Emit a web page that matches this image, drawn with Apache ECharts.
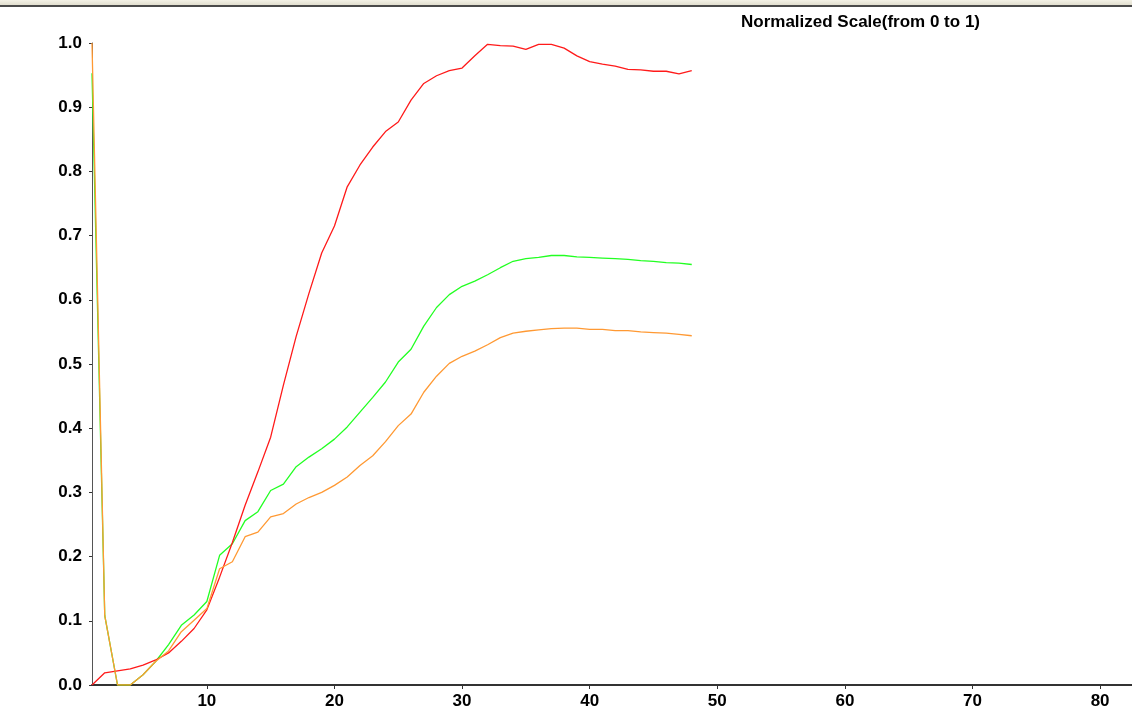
<!DOCTYPE html>
<html>
<head>
<meta charset="utf-8">
<style>
  html, body { margin: 0; padding: 0; background: #ffffff; }
  #topbar { position: absolute; left: 0; top: 0; width: 1132px; height: 5px;
            background: linear-gradient(#f3f1e6, #e2dfcf); border-bottom: 2px solid #4a4a4a; z-index: 2; }
  #chart { position: absolute; left: 0; top: 0; width: 1132px; height: 710px; }
</style>
<script src="https://cdn.jsdelivr.net/npm/echarts@6/dist/echarts.min.js"></script>
</head>
<body>
<div id="topbar"></div>
<div id="chart"></div>
<script>
// x positions (sample index)
var xValues = [1,2,3,4,5,6,7,8,9,10,11,12,13,14,15,16,17,18,19,20,21,22,23,24,
               25,26,27,28,29,30,31,32,33,34,35,36,37,38,39,40,41,42,43,44,45,46,47,48];

var redValues = [0.000,0.019,0.022,0.025,0.031,0.039,0.050,0.068,0.088,0.117,0.168,0.222,
                 0.280,0.332,0.386,0.467,0.543,0.610,0.673,0.715,0.776,0.810,0.838,0.862,
                 0.877,0.911,0.937,0.949,0.957,0.961,0.980,0.998,0.996,0.995,0.990,0.998,
                 0.998,0.992,0.980,0.971,0.967,0.964,0.959,0.958,0.956,0.956,0.952,0.957];

var greenValues = [0.953,0.108,0.000,0.000,0.016,0.037,0.063,0.093,0.109,0.130,0.202,0.220,
                   0.256,0.270,0.303,0.313,0.340,0.355,0.368,0.383,0.402,0.425,0.448,0.472,
                   0.503,0.523,0.559,0.588,0.608,0.621,0.629,0.639,0.650,0.660,0.664,0.666,
                   0.669,0.669,0.667,0.666,0.665,0.664,0.663,0.661,0.660,0.658,0.657,0.655];

var orangeValues = [1.000,0.108,0.000,0.000,0.016,0.037,0.053,0.083,0.101,0.119,0.181,0.192,
                    0.231,0.238,0.262,0.267,0.282,0.292,0.300,0.311,0.324,0.342,0.357,0.379,
                    0.404,0.422,0.456,0.481,0.501,0.512,0.520,0.530,0.541,0.548,0.551,0.553,
                    0.555,0.556,0.556,0.554,0.554,0.552,0.552,0.550,0.549,0.548,0.546,0.544];

var xTickValues = [10,20,30,40,50,60,70,80];
var yTickValues = [0.0,0.1,0.2,0.3,0.4,0.5,0.6,0.7,0.8,0.9,1.0];
var titleText = 'Normalized Scale(from 0 to 1)';

function pairs(vals) {
  return xValues.map(function (x, i) { return [x, vals[i]]; });
}

var labelFont = { fontFamily: 'Liberation Sans, Arial, sans-serif', fontWeight: 'bold', fontSize: 17, color: '#000' };

var chart = echarts.init(document.getElementById('chart'), null, { renderer: 'canvas' });
chart.setOption({
  animation: false,
  backgroundColor: '#ffffff',
  title: {
    text: titleText,
    left: 736,
    top: 9,
    textStyle: { fontFamily: 'Liberation Sans, Arial, sans-serif', fontWeight: 'bold', fontSize: 17, color: '#000' }
  },
  grid: { left: 92, right: 0, top: 43, bottom: 23, containLabel: false },
  xAxis: {
    type: 'value',
    min: 1,
    max: 82.5,
    splitLine: { show: false },
    axisLine: { show: true, onZero: false, lineStyle: { color: '#333', width: 2 } },
    axisTick: { show: true, length: 4, inside: false, customValues: xTickValues, lineStyle: { color: '#333', width: 1 } },
    axisLabel: Object.assign({ customValues: xTickValues, margin: 8 }, labelFont)
  },
  yAxis: {
    type: 'value',
    min: 0,
    max: 1,
    interval: 0.1,
    splitLine: { show: false },
    axisLine: { show: true, onZero: false, lineStyle: { color: '#555', width: 1 } },
    axisTick: { show: true, length: 3, lineStyle: { color: '#333', width: 1 } },
    axisLabel: Object.assign({ margin: 10, formatter: function (v) { return v.toFixed(1); } }, labelFont)
  },
  series: [
    { name: 'green', type: 'line', data: pairs(greenValues), showSymbol: false, symbol: 'none',
      lineStyle: { color: '#22ff22', width: 1.3 }, z: 2 },
    { name: 'red', type: 'line', data: pairs(redValues), showSymbol: false, symbol: 'none',
      lineStyle: { color: '#ff1a1a', width: 1.3 }, z: 3 },
    { name: 'orange', type: 'line', data: pairs(orangeValues), showSymbol: false, symbol: 'none',
      lineStyle: { color: '#ff9933', width: 1.3 }, z: 4 }
  ]
});
</script>
</body>
</html>
